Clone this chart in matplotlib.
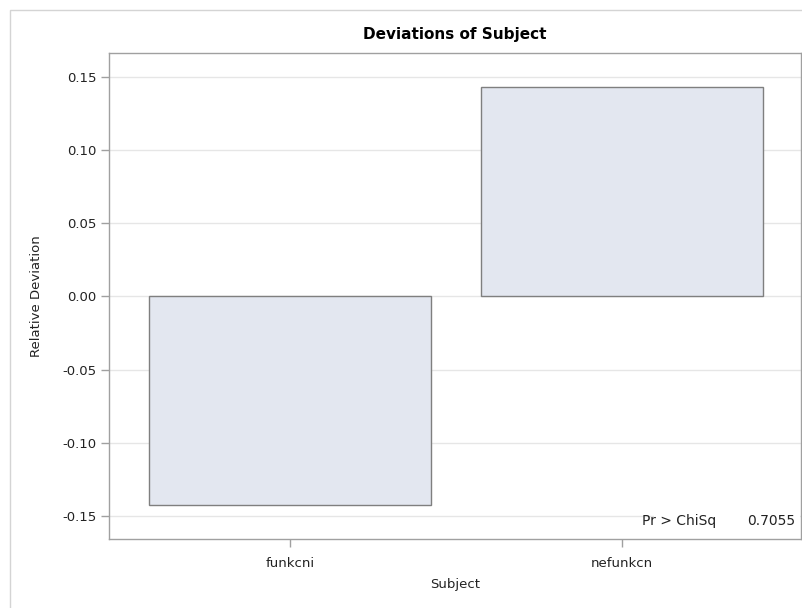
import matplotlib
matplotlib.use("Agg")
import matplotlib.pyplot as plt
from matplotlib.patches import Rectangle

plt.rcParams['font.family'] = ['DejaVu Sans']

# data
subjects = ["funkcni", "nefunkcn"]
deviations = [-0.1429, 0.1429]
yticks = [-0.15, -0.10, -0.05, 0.00, 0.05, 0.10, 0.15]
pvalue = 0.7055

W, H = 803, 608
fig = plt.figure(figsize=(W / 100, H / 100), dpi=100)

# outer frame of the graph
fig.patches.append(Rectangle((10 / W, -0.01), 1.0, 1 - 10 / H + 0.01,
                             transform=fig.transFigure, fill=False,
                             edgecolor="#d4d4d4", linewidth=1.0))

ax = fig.add_axes([109 / W, 1 - 539 / H, (801 - 109) / W, (539 - 53) / H])

x = list(range(len(subjects)))
ax.bar(x, deviations, width=0.852, color="#e3e7f0", edgecolor="#7f7f7f",
       linewidth=1.0, zorder=3)

ax.set_xlim(-0.545, 1.539)
ax.set_ylim(-0.1658, 0.1664)
ax.set_yticks(yticks)
ax.set_yticklabels([f"{t:.2f}" for t in yticks])
ax.set_xticks(x)
ax.set_xticklabels(subjects)
ax.grid(axis="y", color="#e6e6e6", linewidth=1.0, zorder=0)
ax.set_axisbelow(True)

for s in ax.spines.values():
    s.set_color("#a0a0a0")
    s.set_linewidth(1.0)
ax.tick_params(axis="both", direction="out", length=6, width=1.0,
               color="#a0a0a0", labelsize=9.5, labelcolor="#222222", pad=3)
ax.tick_params(axis="x", pad=7)

ax.set_ylabel("Relative Deviation", fontsize=9.5, color="#222222", labelpad=14)
ax.set_xlabel("Subject", fontsize=9.5, color="#222222", labelpad=6)
ax.set_title("Deviations of Subject", fontsize=11, fontweight="bold", pad=10)

# p-value inset, white box over the grid line
ax.add_patch(Rectangle((0.788, 0.008), 0.21, 0.047, transform=ax.transAxes,
                       facecolor="white", edgecolor="none", zorder=4))
ax.text(0.877, 0.022, "Pr > ChiSq", transform=ax.transAxes,
        ha="right", va="bottom", fontsize=10, color="#222222", zorder=5)
ax.text(0.991, 0.022, f"{pvalue:.4f}", transform=ax.transAxes,
        ha="right", va="bottom", fontsize=10, color="#222222", zorder=5)

fig.savefig("out.png", dpi=100)
